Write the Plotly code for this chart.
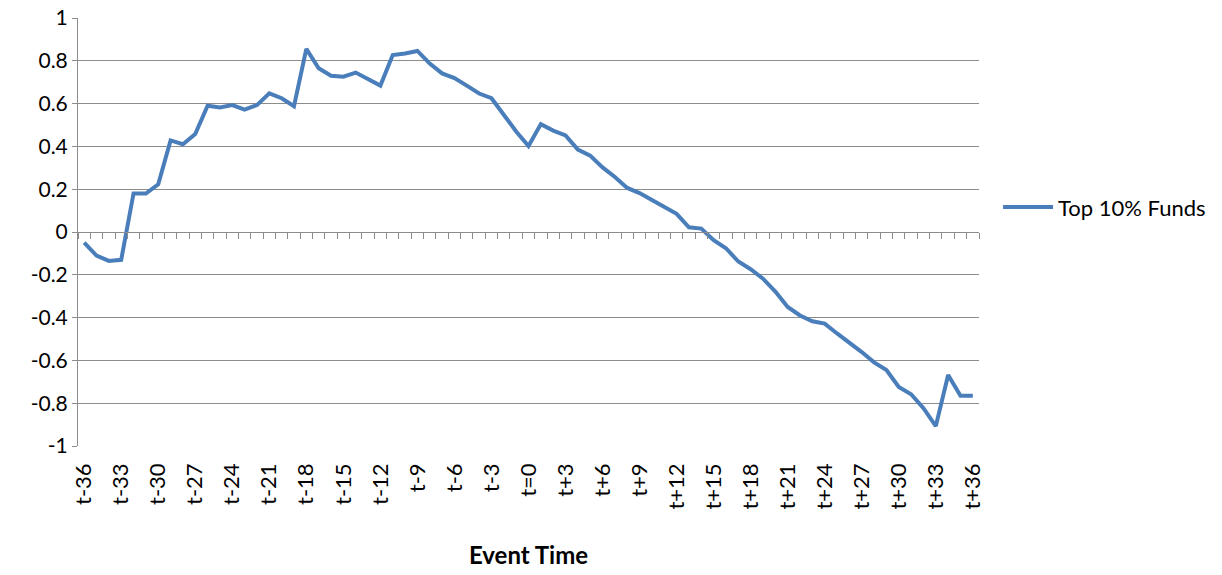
import plotly.graph_objects as go

# Event-time categories t-36 ... t=0 ... t+36
event_labels = [f"t{k}" if k < 0 else ("t=0" if k == 0 else f"t+{k}") for k in range(-36, 37)]

# Cumulative response of the top-decile funds at each event month
top10_values = [
    -0.05, -0.11, -0.135, -0.13, 0.18, 0.18, 0.223, 0.428, 0.41, 0.458,
    0.59, 0.582, 0.593, 0.572, 0.593, 0.648, 0.625, 0.588, 0.856, 0.765,
    0.73, 0.726, 0.745, 0.714, 0.684, 0.827, 0.834, 0.846, 0.787, 0.741,
    0.719, 0.684, 0.647, 0.625, 0.545, 0.47, 0.402, 0.504, 0.474, 0.451,
    0.385, 0.357, 0.302, 0.257, 0.206, 0.182, 0.15, 0.119, 0.085, 0.022,
    0.016, -0.038, -0.076, -0.138, -0.174, -0.218, -0.278, -0.35, -0.39, -0.417,
    -0.428, -0.474, -0.515, -0.561, -0.609, -0.645, -0.724, -0.758, -0.823, -0.907,
    -0.668, -0.765, -0.765,
]

y_tick_values = [1, 0.8, 0.6, 0.4, 0.2, 0, -0.2, -0.4, -0.6, -0.8, -1]
y_tick_labels = ["1", "0.8", "0.6", "0.4", "0.2", "0", "-0.2", "-0.4", "-0.6", "-0.8", "-1"]

series_name = "Top 10% Funds"
x_title = "Event Time"

positions = list(range(len(event_labels)))
label_positions = positions[::3]
label_text = event_labels[::3]
boundaries = [p - 0.5 for p in positions] + [positions[-1] + 0.5]

FONT = "Lato"
GRID = "#8c8c8c"
LINE_BLUE = "#4a7ebb"

fig = go.Figure()
fig.add_trace(go.Scatter(
    x=positions, y=top10_values, mode="lines", name=series_name,
    line=dict(color=LINE_BLUE, width=4), showlegend=True,
))
# invisible trace bound to the secondary x-axis so it renders
fig.add_trace(go.Scatter(
    x=[positions[0]], y=[0], xaxis="x2", mode="markers",
    marker=dict(opacity=0), showlegend=False, hoverinfo="skip",
))

x_range = [-0.5, positions[-1] + 0.5]

fig.update_layout(
    width=1222, height=575,
    margin=dict(l=78, r=242, t=18, b=129),
    paper_bgcolor="white", plot_bgcolor="white",
    font=dict(family=FONT, size=20, color="black"),
    xaxis=dict(
        range=x_range, tickmode="array", tickvals=label_positions, ticktext=label_text,
        tickangle=-90, showgrid=False, zeroline=False, showline=False, ticks="",
        tickfont=dict(size=22), ticklabelstandoff=12,
        title=dict(text=f"<b>{x_title}</b>", font=dict(size=24), standoff=38),
        automargin=False,
    ),
    xaxis2=dict(
        range=x_range, overlaying="x", anchor="free", position=0.5, side="bottom",
        tickmode="array", tickvals=boundaries, ticks="outside", ticklen=6,
        tickcolor=GRID, tickwidth=1, showticklabels=False, showline=True,
        linecolor=GRID, linewidth=1, showgrid=False, zeroline=False,
    ),
    yaxis=dict(
        range=[-1, 1], tickmode="array", tickvals=y_tick_values, ticktext=y_tick_labels,
        showgrid=True, gridcolor=GRID, gridwidth=1, zeroline=False,
        showline=True, linecolor=GRID, linewidth=1,
        ticks="outside", ticklen=5, tickcolor=GRID,
        tickfont=dict(size=21), automargin=False,
    ),
    legend=dict(
        x=1.02, y=0.558, xanchor="left", yanchor="middle",
        font=dict(size=22), bgcolor="rgba(0,0,0,0)", itemwidth=50,
    ),
)

fig.write_html("out.html")
